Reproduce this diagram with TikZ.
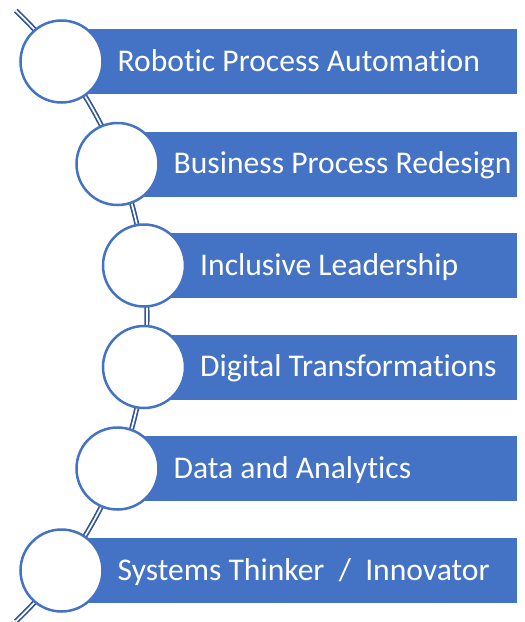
\documentclass[tikz,border=0pt]{standalone}
\usepackage{fontspec}
\setmainfont[Ligatures=NoCommon]{Carlito}
\definecolor{accent}{HTML}{4472C4}
\definecolor{linkc}{HTML}{2F5597}
\begin{document}
\begin{tikzpicture}[x=1pt,y=-1pt,
  bar/.style={fill=accent, draw=none, anchor=west, minimum height=65pt, inner sep=0pt},
  ring/.style={circle, fill=white, draw=accent, line width=2.5pt, minimum size=82pt, inner sep=0pt},
  lbl/.style={anchor=base west, inner sep=0pt, text=white, font=\fontsize{31.6}{36}\selectfont},
  conn/.style={draw=linkc, line width=1.7pt, double=white, double distance=1.7pt}]
\useasboundingbox (0,0) rectangle (525,622);
% curve through the circle centres
\path (-274,316) ++(-46.5:421) coordinate (ctop);
\draw[conn] (ctop) arc[start angle=-46.5, end angle=46.5, radius=421] coordinate (cbot);
% rows
\foreach \i/\cx/\cy/\t in {1/61.5/61.5/{Robotic Process Automation},
  2/117.5/164/{Business Process Redesign},
  3/144/265.5/{Inclusive Leadership},
  4/144/367/{Digital Transformations},
  5/117.5/468.5/{Data and Analytics},
  6/61.5/570.5/{Systems Thinker \ / \ Innovator}}{
  \pgfmathsetmacro{\w}{517-\cx}
  \node[bar, minimum width=\w pt] (r\i) at (\cx,\cy) {};
  \node[ring] (c\i) at (\cx,\cy) {};
  \node[lbl] (t\i) at (\cx+56,\cy+9.8) {\t};
}
\end{tikzpicture}
\end{document}
